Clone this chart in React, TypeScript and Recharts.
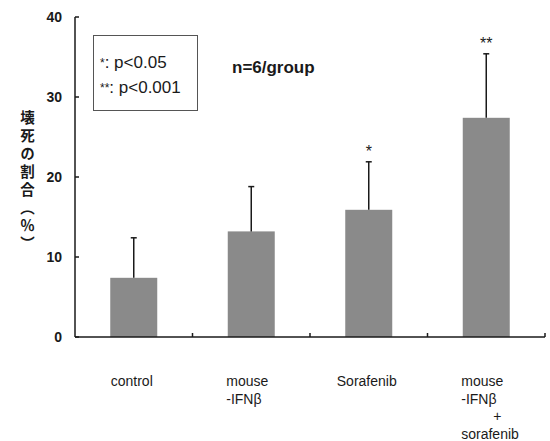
import React from "react"
import { BarChart, Bar, XAxis, YAxis } from "recharts"

// group labels (one entry per line), means, SD, significance marks
const groups = [
  ["control"],
  ["mouse", "-IFNβ"],
  ["Sorafenib"],
  ["mouse", "-IFNβ", "+", "sorafenib"],
]
const means = [7.4, 13.2, 15.9, 27.4]
const sds = [5.0, 5.6, 6.0, 8.0]
const marks = ["", "", "*", "**"]
const yTicks = [0, 10, 20, 30, 40]
const yTitle = "壊死の割合（％）"

const W = 550
const H = 441
const LEFT = 75
const RIGHT = 5
const halfBand = (W - LEFT - RIGHT) / groups.length / 2

const data = groups.map((g, i) => ({
  name: g.join("\n"),
  value: means[i],
  sd: sds[i],
  mark: marks[i],
}))

const ink = "#1a1a1a"
const sans = "Liberation Sans, Arial"

function BarWithError(props: any) {
  const { x, y, width, height, payload } = props
  const perUnit = height / payload.value
  const top = y - payload.sd * perUnit
  const cx = x + width / 2
  return (
    <g>
      <rect x={x} y={y} width={width} height={height} fill="#8a8a8a" />
      <line x1={cx} x2={cx} y1={y} y2={top} stroke={ink} strokeWidth={1.5} />
      <line x1={cx - 3} x2={cx + 3} y1={top} y2={top} stroke={ink} strokeWidth={1.5} />
      {payload.mark && (
        <text x={cx} y={top - 5} textAnchor="middle" fontSize={16} fontFamily={sans} fill={ink}>
          {payload.mark}
        </text>
      )}
    </g>
  )
}

function YTick(props: any) {
  const { x, y, payload } = props
  return (
    <g>
      <line x1={x} x2={x + 4} y1={y} y2={y} stroke={ink} strokeWidth={1.5} />
      <text
        x={x - 13}
        y={y + 5}
        textAnchor="end"
        fontSize={14}
        fontWeight="bold"
        fontFamily={sans}
        fill={ink}
      >
        {payload.value}
      </text>
    </g>
  )
}

function XTick(props: any) {
  const { x, y, payload } = props
  const lines: string[] = String(payload.value).split("\n")
  const multi = lines.length > 1
  return (
    <g>
      <line x1={x + halfBand} x2={x + halfBand} y1={y} y2={y - 4} stroke={ink} strokeWidth={1.5} />
      {lines.map((ln, i) => {
        const plus = ln === "+"
        return (
          <text
            key={i}
            x={!multi ? x - 2 : plus ? x + 11 : x - 25}
            y={y + 49 + i * 17.5}
            textAnchor={!multi || plus ? "middle" : "start"}
            fontSize={14}
            fontFamily={sans}
            fill={ink}
          >
            {ln}
          </text>
        )
      })}
    </g>
  )
}

export default function App() {
  return (
    <div style={{ position: "absolute", left: 0, top: 0, width: W, height: H, background: "#fff" }}>
      <BarChart
        width={W}
        height={H}
        data={data}
        margin={{ top: 17, right: RIGHT, bottom: 0, left: 0 }}
        barCategoryGap="30%"
      >
        <YAxis
          width={LEFT}
          domain={[0, 40]}
          ticks={yTicks}
          interval={0}
          tickSize={0}
          tickMargin={0}
          tick={<YTick />}
          axisLine={{ stroke: ink, strokeWidth: 1.5 }}
        />
        <XAxis
          dataKey="name"
          height={H - 337}
          interval={0}
          tickSize={0}
          tickMargin={0}
          tick={<XTick />}
          axisLine={{ stroke: ink, strokeWidth: 1.5 }}
        />
        <Bar dataKey="value" shape={<BarWithError />} isAnimationActive={false} />
      </BarChart>

      {/* significance legend */}
      <div
        style={{
          position: "absolute",
          left: 93,
          top: 35,
          width: 105,
          height: 76,
          border: "1px solid #555",
          fontFamily: sans,
          fontSize: 17,
          color: ink,
          boxSizing: "border-box",
        }}
      >
        <div style={{ position: "absolute", left: 6, top: 17, whiteSpace: "nowrap", lineHeight: "20px" }}>
          <span style={{ fontSize: 12, verticalAlign: "top" }}>*</span>: p&lt;0.05
        </div>
        <div style={{ position: "absolute", left: 6, top: 42, whiteSpace: "nowrap", lineHeight: "20px" }}>
          <span style={{ fontSize: 12, verticalAlign: "top" }}>**</span>: p&lt;0.001
        </div>
      </div>

      <div
        style={{
          position: "absolute",
          left: 232,
          top: 58,
          fontFamily: sans,
          fontWeight: "bold",
          fontSize: 17,
          color: ink,
          whiteSpace: "nowrap",
        }}
      >
        n=6/group
      </div>

      {/* y axis title, vertical */}
      <div
        style={{
          position: "absolute",
          left: 19,
          top: 110,
          writingMode: "vertical-rl",
          fontFamily: "Noto Sans CJK JP",
          fontWeight: "bold",
          fontSize: 14.5,
          letterSpacing: 3.5,
          lineHeight: "16px",
          color: ink,
        }}
      >
        {yTitle}
      </div>
    </div>
  )
}
